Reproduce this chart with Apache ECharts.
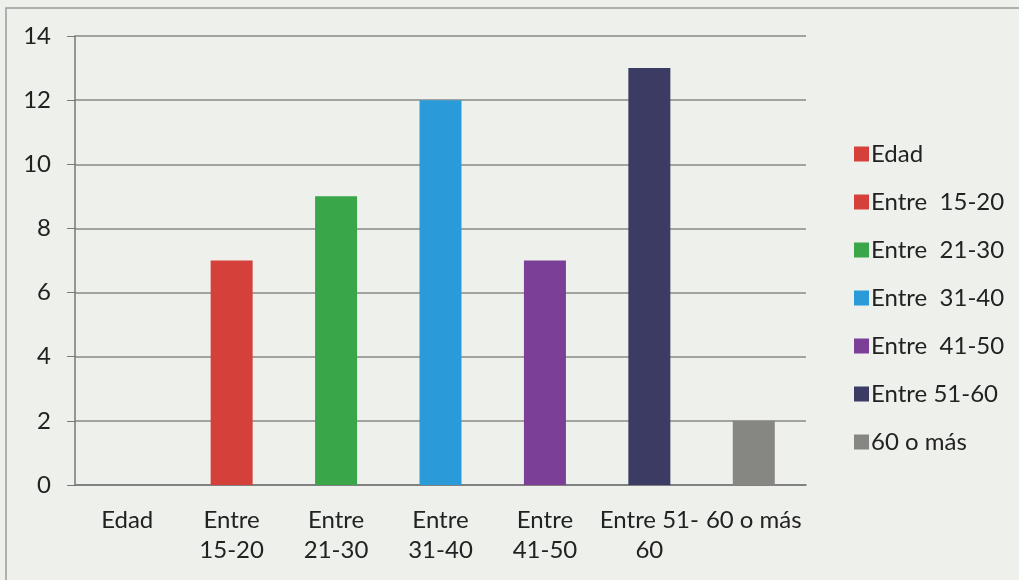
<!DOCTYPE html>
<html><head><meta charset="utf-8">
<script src="https://cdn.jsdelivr.net/npm/echarts@6/dist/echarts.min.js"></script>
<style>html,body{margin:0;padding:0;background:#eef0ec;}#c{width:1019px;height:580px;}</style>
</head><body><div id="c"></div>
<script>
const categories = ["Edad", "Entre\n15-20", "Entre\n21-30", "Entre\n31-40", "Entre\n41-50", "Entre 51-\n60", "60 o más"];
const seriesNames = ["Edad", "Entre  15-20", "Entre  21-30", "Entre  31-40", "Entre  41-50", "Entre 51-60", "60 o más"];
const values = [0, 7, 9, 12, 7, 13, 2];
const yTicks = [0, 2, 4, 6, 8, 10, 12, 14];
const colors = ["#d6403a", "#d6403a", "#3aa64a", "#2a9bd8", "#7b3f98", "#3b3b63", "#868682"];

const chart = echarts.init(document.getElementById('c'));
const series = seriesNames.map((n, i) => ({
  name: n, type: 'bar', stack: 'a', barWidth: 42,
  itemStyle: {color: colors[i]},
  data: categories.map((c, j) => j === i ? values[i] : '-')
}));
chart.setOption({
  backgroundColor: '#eef0ec',
  animation: false,
  textStyle: {fontFamily: 'Lato'},
  grid: {left: 75, right: 213, top: 36, bottom: 95},
  legend: {
    orient: 'vertical', left: 849, top: 137, itemWidth: 15, itemHeight: 15, itemGap: 24,
    icon: 'rect',
    textStyle: {fontSize: 24, lineHeight: 24, color: '#222', fontFamily: 'Lato', padding: [0, 0, 0, -3]},
    data: seriesNames
  },
  xAxis: {
    type: 'category', data: categories,
    axisLine: {lineStyle: {color: '#777', width: 1.5}},
    axisTick: {length: 8, lineStyle: {color: '#777'}},
    axisLabel: {fontSize: 24, color: '#222', margin: 20, lineHeight: 30, interval: 0}
  },
  yAxis: {
    type: 'value', min: 0, max: 14, interval: 2,
    axisLine: {show: true, lineStyle: {color: '#777', width: 1.5}},
    axisTick: {show: true, length: 8, lineStyle: {color: '#777'}},
    splitLine: {lineStyle: {color: '#888', width: 1.5}},
    axisLabel: {fontSize: 24, color: '#222', margin: 24,
      formatter: v => yTicks.includes(v) ? String(v) : ''}
  },
  graphic: [{type: 'rect', shape: {x: 6, y: 8, width: 1020, height: 580}, style: {fill: 'none', stroke: '#999', lineWidth: 1.5}, silent: true}],
  series: series
});
</script></body></html>
